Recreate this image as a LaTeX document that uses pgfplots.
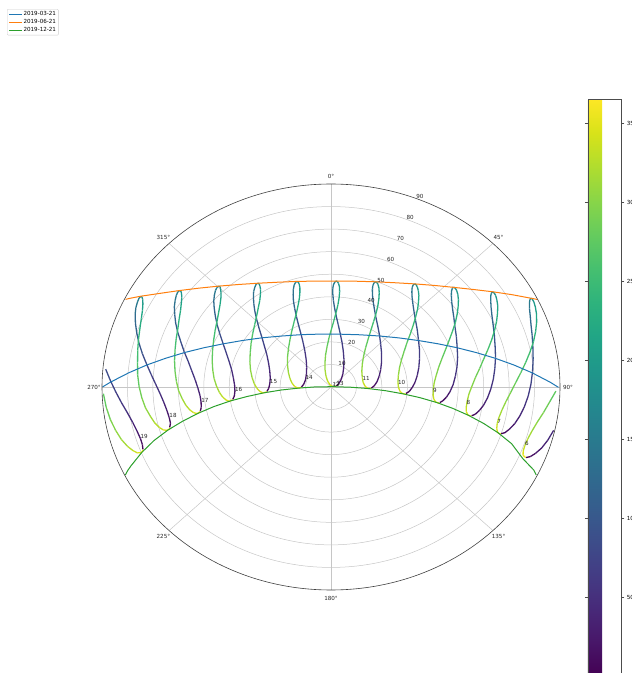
\documentclass[border=0pt]{standalone}
\usepackage{fontspec}
\setmainfont{DejaVu Sans}
\usepackage{pgfplots}
\pgfplotsset{compat=1.18}
\definecolor{cA}{HTML}{1F77B4}
\definecolor{cB}{HTML}{FF7F0E}
\definecolor{cC}{HTML}{2CA02C}
\newcommand\sfs{\fontsize{5.6}{6.5}\selectfont}
\pgfplotsset{ana/.style={mesh, forget plot, line width=1.3pt, point meta=explicit},
  colorbar shift/.style={}}
\begin{document}
\begin{tikzpicture}
% polar grid (zenith circles every 10 deg, azimuth rays every 45 deg)
\foreach \r in {10,20,...,80} {
  \draw[gray!45, line width=0.5pt] (331pt,286pt) ellipse [x radius={\r/90*229pt}, y radius={\r/90*203pt}];
}
\foreach \a in {0,45,...,315} {
  \draw[gray!45, line width=0.5pt] (331pt,286pt) -- ++({229pt*sin(\a)},{203pt*cos(\a)});
}
\begin{axis}[
  at={(102pt,83pt)}, anchor=south west,
  width=458pt, height=406pt, scale only axis,
  xmin=-90, xmax=90, ymin=-90, ymax=90,
  hide axis,
  colormap name=viridis,
  point meta min=1, point meta max=365,
  colorbar,
  colorbar style={
    at={(parent axis.north east)}, anchor=north west,
    xshift=28pt, yshift=84.7pt,
    width=33.4pt, height=575.7pt, scale only axis,
    ytick={50,100,...,350},
    yticklabel style={font=\sfs, /pgf/number format/assume math mode=true, xshift=-1pt},
    tick align=outside, major tick length=3pt,
    axis line style={black!70, line width=0.4pt},
    every tick/.style={black!70, line width=0.4pt},
  },
  legend style={at={(-0.2074,1.431)}, anchor=north west, font=\sfs,
    draw=black!20, rounded corners=1pt, inner sep=1.5pt, row sep=0.6pt,
    nodes={inner sep=0.8pt}, cells={anchor=west}},
  legend image code/.code={\draw[#1] (0pt,0pt) -- (13pt,0pt);},
]
% ---- analemmas: day of year d, azimuth a (deg), apparent zenith z (deg) ----
% 6h
\addplot[ana] table[x expr=\thisrow{z}*sin(\thisrow{a}), y expr=\thisrow{z}*cos(\thisrow{a}), meta=d] {
d a z
271 91.2 88.4
281 94.4 86.2
291 97.7 84.3
301 100.8 82.6
311 103.8 81.4
321 106.5 80.7
331 108.8 80.5
341 110.6 80.7
351 111.8 81.3
361 112.2 82.3
365 112.2 82.7
};
\addplot[ana] table[x expr=\thisrow{z}*sin(\thisrow{a}), y expr=\thisrow{z}*cos(\thisrow{a}), meta=d] {
d a z
1 112.2 82.8
11 111.5 84.2
21 110.1 85.6
31 108.1 87.1
41 105.5 88.4
51 102.4 89.6
};
% 7h
\addplot[ana] table[x expr=\thisrow{z}*sin(\thisrow{a}), y expr=\thisrow{z}*cos(\thisrow{a}), meta=d] {
d a z
1 107.2 70
11 106.5 71.3
21 104.9 72.6
31 102.7 74
41 99.9 75.3
51 96.6 76.5
61 93 77.6
71 89.1 78.6
81 85.1 79.5
91 81.2 80.4
101 77.4 81.3
111 73.9 82.3
121 70.7 83.3
131 68.1 84.4
141 66 85.4
151 64.5 86.4
161 63.6 87.3
171 63.4 87.9
181 63.8 88.2
191 64.7 88.2
201 66.2 87.8
211 68.2 87
221 70.4 85.8
231 73 84.1
241 75.8 82.1
251 78.7 79.8
261 81.9 77.3
271 85.1 74.9
281 88.5 72.6
291 91.9 70.7
301 95.3 69.1
311 98.5 68
321 101.5 67.4
331 103.9 67.3
341 105.8 67.7
351 107 68.4
361 107.4 69.4
365 107.3 69.9
};
% 8h
\addplot[ana] table[x expr=\thisrow{z}*sin(\thisrow{a}), y expr=\thisrow{z}*cos(\thisrow{a}), meta=d] {
d a z
1 103 56.7
11 102 58
21 100.2 59.2
31 97.7 60.5
41 94.5 61.7
51 90.9 62.8
61 86.9 63.9
71 82.8 64.9
81 78.5 66
91 74.3 67
101 70.3 68.2
111 66.7 69.4
121 63.5 70.7
131 60.8 72.1
141 58.8 73.4
151 57.3 74.6
161 56.6 75.5
171 56.4 76.2
181 56.9 76.5
191 57.9 76.4
201 59.3 75.8
211 61.2 74.8
221 63.4 73.2
231 65.9 71.3
241 68.7 69
251 71.7 66.5
261 74.9 63.9
271 78.3 61.3
281 82 59
291 85.8 56.9
301 89.6 55.4
311 93.3 54.3
321 96.7 53.9
331 99.5 53.9
341 101.6 54.3
351 102.9 55.1
361 103.2 56.2
365 103.1 56.6
};
% 9h
\addplot[ana] table[x expr=\thisrow{z}*sin(\thisrow{a}), y expr=\thisrow{z}*cos(\thisrow{a}), meta=d] {
d a z
1 99.2 43.3
11 97.9 44.4
21 95.7 45.6
31 92.6 46.8
41 88.8 48
51 84.5 49.1
61 79.9 50.3
71 75.1 51.5
81 70.2 52.7
91 65.6 54.1
101 61.2 55.6
111 57.4 57.3
121 54.1 59
131 51.4 60.7
141 49.4 62.3
151 48.1 63.6
161 47.5 64.7
171 47.4 65.4
181 48 65.6
191 49 65.4
201 50.5 64.6
211 52.3 63.3
221 54.4 61.5
231 56.9 59.2
241 59.6 56.7
251 62.6 53.8
261 65.9 50.9
271 69.6 48.1
281 73.7 45.5
291 78.1 43.3
301 82.8 41.7
311 87.4 40.6
321 91.6 40.2
331 95.1 40.3
341 97.7 40.8
351 99.2 41.7
361 99.5 42.7
365 99.3 43.1
};
% 10h
\addplot[ana] table[x expr=\thisrow{z}*sin(\thisrow{a}), y expr=\thisrow{z}*cos(\thisrow{a}), meta=d] {
d a z
1 95.6 29.6
11 93.7 30.8
21 90.5 31.9
31 86.4 33.1
41 81.4 34.3
51 75.9 35.6
61 70.1 37
71 64.2 38.6
81 58.5 40.3
91 53.3 42.3
101 48.5 44.4
111 44.5 46.6
121 41.3 48.8
131 38.8 50.9
141 37 52.8
151 35.9 54.4
161 35.5 55.6
171 35.7 56.3
181 36.3 56.4
191 37.3 55.9
201 38.7 54.9
211 40.4 53.3
221 42.3 51.1
231 44.5 48.6
241 46.9 45.6
251 49.7 42.4
261 52.9 39.1
271 56.6 35.8
281 61.2 32.8
291 66.5 30.2
301 72.6 28.2
311 78.9 27
321 85 26.4
331 90.1 26.5
341 93.7 27.1
351 95.7 28
361 96.1 29.1
365 95.8 29.5
};
% 11h
\addplot[ana] table[x expr=\thisrow{z}*sin(\thisrow{a}), y expr=\thisrow{z}*cos(\thisrow{a}), meta=d] {
d a z
1 91.7 15.9
11 88.2 17
21 82.8 18.2
31 76 19.5
41 68.5 21
51 60.7 22.8
61 53 24.9
71 45.9 27.2
81 39.6 29.9
91 34.2 32.7
101 29.7 35.6
111 26.2 38.6
121 23.6 41.4
131 21.8 43.9
141 20.6 46.2
151 20.1 47.9
161 20.1 49.1
171 20.5 49.8
181 21.2 49.7
191 22.1 49.1
201 23.2 47.8
211 24.4 45.9
221 25.7 43.4
231 27.1 40.4
241 28.5 37.1
251 30 33.5
261 31.9 29.7
271 34.4 25.9
281 37.9 22.2
291 43 18.8
301 50.3 16
311 59.9 14
321 71 13
331 81.1 12.8
341 88.5 13.4
351 92.2 14.3
361 92.6 15.4
365 91.9 15.8
};
% 12h
\addplot[ana] table[x expr=\thisrow{z}*sin(\thisrow{a}), y expr=\thisrow{z}*cos(\thisrow{a}), meta=d] {
d a z
1 77.7 2.2
11 63.4 3.5
21 49.7 5.3
31 38.5 7.5
41 29.6 10.2
51 22.5 13.3
61 16.8 16.7
71 12.3 20.3
81 8.6 24.1
91 5.8 27.9
101 3.7 31.6
111 2.3 35.1
121 1.4 38.4
131 1 41.2
141 0.9 43.6
151 1.2 45.3
161 1.8 46.5
171 2.4 47
181 3.1 46.8
191 3.7 46
201 4.3 44.5
211 4.6 42.4
221 4.6 39.7
231 4.3 36.7
241 3.5 33.2
251 2.3 29.6
261 0.4 25.7
271 358 21.9
281 355.1 18
291 351.5 14.4
301 347.4 10.9
311 342.7 7.8
321 337.6 5.1
331 333 2.9
341 337.2 1.1
351 68.1 0.6
361 83 1.7
365 78.9 2.1
};
% 13h
\addplot[ana] table[x expr=\thisrow{z}*sin(\thisrow{a}), y expr=\thisrow{z}*cos(\thisrow{a}), meta=d] {
d a z
1 269.9 11.6
11 276.4 10.8
21 287.2 10.5
31 300.3 11.2
41 312.2 12.9
51 321.1 15.5
61 327 18.8
71 330.9 22.5
81 333.4 26.4
91 335.1 30.3
101 336.5 34.1
111 337.7 37.6
121 338.8 40.8
131 340 43.5
141 341.1 45.7
151 342.2 47.4
161 343.1 48.3
171 343.9 48.7
181 344.5 48.3
191 344.7 47.4
201 344.5 45.8
211 343.8 43.8
221 342.5 41.3
231 340.4 38.5
241 337.5 35.5
251 333.6 32.5
261 328.7 29.5
271 322.8 26.6
281 315.9 24
291 308.1 21.7
301 299.8 19.7
311 291.4 18
321 283.3 16.6
331 276.3 15.4
341 271 14.3
351 268.1 13.2
361 268.4 12.1
365 269.5 11.7
};
% 14h
\addplot[ana] table[x expr=\thisrow{z}*sin(\thisrow{a}), y expr=\thisrow{z}*cos(\thisrow{a}), meta=d] {
d a z
1 265.5 25.3
11 268.5 24.5
21 273.3 24.1
31 279.5 24.2
41 286.5 25.1
51 293.3 26.7
61 299.6 29
71 304.8 31.9
81 309.2 35.1
91 312.7 38.5
101 315.7 41.8
111 318.3 45
121 320.6 47.8
131 322.6 50.2
141 324.3 52.1
151 325.9 53.4
161 327.1 54.2
171 327.9 54.3
181 328.3 53.9
191 328.1 52.9
201 327.4 51.4
211 326 49.6
221 323.9 47.5
231 320.9 45.3
241 317.2 43
251 312.7 40.8
261 307.5 38.8
271 301.7 36.9
281 295.6 35.2
291 289.4 33.8
301 283.3 32.5
311 277.7 31.3
321 272.8 30.2
331 268.8 29.1
341 265.9 28
351 264.5 26.9
361 264.8 25.8
365 265.3 25.4
};
% 15h
\addplot[ana] table[x expr=\thisrow{z}*sin(\thisrow{a}), y expr=\thisrow{z}*cos(\thisrow{a}), meta=d] {
d a z
1 261.9 39
11 264 38.2
21 267.2 37.8
31 271.3 37.9
41 276.1 38.6
51 281.1 39.8
61 286 41.7
71 290.6 44.1
81 294.7 46.8
91 298.4 49.7
101 301.7 52.6
111 304.7 55.3
121 307.3 57.7
131 309.6 59.8
141 311.6 61.3
151 313.3 62.4
161 314.5 62.9
171 315.3 62.9
181 315.6 62.3
191 315.1 61.5
201 314.1 60.2
211 312.4 58.6
221 310 56.9
231 306.9 55.2
241 303.2 53.5
251 298.9 52
261 294.3 50.6
271 289.3 49.3
281 284.3 48.2
291 279.3 47.1
301 274.7 46.1
311 270.5 45
321 266.8 43.9
331 264 42.8
341 262 41.6
351 261 40.5
361 261.3 39.5
365 261.8 39.1
};
% 16h
\addplot[ana] table[x expr=\thisrow{z}*sin(\thisrow{a}), y expr=\thisrow{z}*cos(\thisrow{a}), meta=d] {
d a z
1 258.2 52.5
11 259.9 51.8
21 262.5 51.5
31 265.7 51.6
41 269.4 52.3
51 273.5 53.5
61 277.5 55.2
71 281.5 57.3
81 285.2 59.8
91 288.7 62.3
101 291.9 64.9
111 294.9 67.3
121 297.6 69.3
131 300 71.1
141 302.1 72.3
151 303.7 73.1
161 305 73.5
171 305.6 73.3
181 305.8 72.8
191 305.3 72
201 304.1 70.8
211 302.3 69.6
221 299.9 68.2
231 296.9 66.9
241 293.5 65.6
251 289.4 64.5
261 285.2 63.5
271 280.8 62.6
281 276.5 61.7
291 272.3 60.8
301 268.4 59.9
311 264.9 58.7
321 261.9 57.6
331 259.6 56.4
341 258.1 55.2
351 257.4 54
361 257.7 53
365 258.1 52.6
};
% 17h
\addplot[ana] table[x expr=\thisrow{z}*sin(\thisrow{a}), y expr=\thisrow{z}*cos(\thisrow{a}), meta=d] {
d a z
1 254.2 65.9
11 255.7 65.1
21 257.9 65
31 260.7 65.3
41 263.9 66
51 267.4 67.2
61 271 68.9
71 274.5 70.9
81 278 73.2
91 281.3 75.6
101 284.4 77.9
111 287.4 80
121 290.2 81.9
131 292.8 83.5
141 294.7 84.4
151 296.4 84.9
161 297.6 85.1
171 298.2 84.9
181 298.3 84.4
191 297.7 83.6
201 296.5 82.6
211 294.6 81.5
221 292.2 80.5
231 289.2 79.5
241 285.8 78.6
251 282.1 77.7
261 278.2 76.8
271 274.1 76.2
281 270.1 75.4
291 266.3 74.5
301 262.8 73.5
311 259.7 72.2
321 257.1 71.1
331 255.1 69.8
341 253.9 68.6
351 253.4 67.3
361 253.7 66
365 254.1 65.9
};
% 18h
\addplot[ana] table[x expr=\thisrow{z}*sin(\thisrow{a}), y expr=\thisrow{z}*cos(\thisrow{a}), meta=d] {
d a z
271 268.1 89.5
281 264.2 88.8
291 260.5 87.9
301 257.2 86.8
311 254.2 85.6
321 251.8 84.2
331 250.1 82.8
341 249 81.5
351 248.7 80.2
361 249 79.3
365 249.4 78.9
};
\addplot[ana] table[x expr=\thisrow{z}*sin(\thisrow{a}), y expr=\thisrow{z}*cos(\thisrow{a}), meta=d] {
d a z
1 249.5 78.9
11 251 78.4
21 253 78.3
31 255.6 78.7
41 258.6 79.5
51 261.8 80.8
61 265.1 82.6
71 268.5 84.6
81 271.8 86.7
91 275.1 88.9
};
% ---- hour labels (lowest zenith of each clock hour) ----
\addplot[draw=none, forget plot, nodes near coords, point meta=explicit symbolic,
  every node near coord/.style={anchor=base west, font=\sfs, inner sep=0pt, text=black!85}]
  table[x expr=\thisrow{z}*sin(\thisrow{a}), y expr=\thisrow{z}*cos(\thisrow{a}), meta=lab] {
a z lab
108.8 80.5 6
103.9 67.3 7
98.1 53.8 8
93.2 40.1 9
87.5 26.3 10
76 12.7 11
68.1 0.6 12
77.7 2.2 13
287.2 10.5 14
273.3 24.1 15
267.2 37.8 16
262.5 51.5 17
257.9 65 18
253 78.3 19
};
% ---- single days ----
\addplot[cA, line width=1pt] table[x expr=\thisrow{z}*sin(\thisrow{a}), y expr=\thisrow{z}*cos(\thisrow{a})] {
a z
90.1 89.4
89.6 88.3
88.6 86.2
85.5 79.4
82.3 72.6
78.9 65.9
75.1 59.2
70.7 52.6
65.5 46.2
59.1 40.1
50.9 34.5
40.2 29.6
26.2 25.8
9 23.7
350.3 23.8
333.2 26
319.3 29.8
308.8 34.8
300.7 40.4
294.3 46.5
289.2 52.9
284.9 59.5
281.1 66.2
277.7 73
274.5 79.8
271.5 86.5
271 87.6
270.5 88.7
270 89.8
};
\addlegendentry{2019-03-21}
\addplot[cB, line width=1pt] table[x expr=\thisrow{z}*sin(\thisrow{a}), y expr=\thisrow{z}*cos(\thisrow{a})] {
a z
64.4 89.8
63.9 88.9
63.4 87.9
60.1 82.1
56.4 76.3
52.3 70.7
47.5 65.4
42 60.6
35.7 56.3
28.5 52.6
20.5 49.8
11.7 47.9
2.5 47
353.1 47.3
344 48.7
335.6 51
327.9 54.3
321.2 58.3
315.3 62.9
310.2 67.9
305.7 73.3
301.7 79
298.3 84.9
296.7 87.8
296.2 88.7
295.7 89.6
};
\addlegendentry{2019-06-21}
\addplot[cC, line width=1pt] table[x expr=\thisrow{z}*sin(\thisrow{a}), y expr=\thisrow{z}*cos(\thisrow{a})] {
a z
115.8 89.6
115.3 88.7
114.8 87.8
112.8 81.7
109.5 75.3
107.2 68.8
105.1 62.2
103.1 55.5
101.2 48.8
99.4 42.1
97.7 35.3
96.1 28.4
94.4 21.6
92.7 14.7
90.8 7.9
82.8 1.1
270.5 6.1
267.8 12.7
266.1 19.6
264.4 26.5
262.7 33.3
261.1 40.1
259.3 46.9
257.4 53.6
255.4 60.3
253.4 66.9
251.2 73.4
248.7 79.8
246 86.1
245.2 87.9
244.7 88.9
244.2 89.8
};
\addlegendentry{2019-12-21}
\end{axis}
% outer circle (horizon)
\draw[black!75, line width=0.6pt] (331pt,286pt) ellipse [x radius=229pt, y radius=203pt];
% azimuth labels
\foreach \a in {0,45,...,315} {
  \node[font=\sfs, text=black!85, inner sep=0pt] at ({331pt+237pt*sin(\a)},{286pt+211pt*cos(\a)}) {\a°};
}
% zenith labels
\foreach \r in {10,20,...,90} {
  \node[font=\sfs, text=black!85, inner sep=0pt] at ({331pt+(\r+1.3)/90*229pt*sin(22.5)},{286pt+(\r+1.3)/90*203pt*cos(22.5)}) {\r};
}
\pgfresetboundingbox
\path[use as bounding box] (0pt,0pt) rectangle (632pt,673pt);
\end{tikzpicture}
\end{document}
